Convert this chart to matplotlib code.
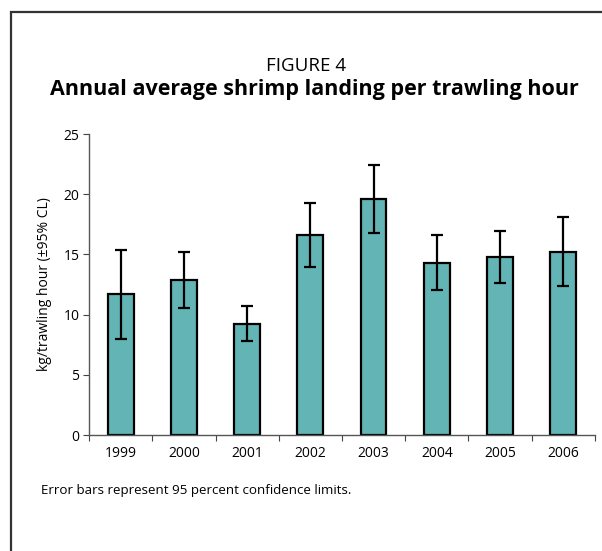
import matplotlib.pyplot as plt
from matplotlib.patches import Rectangle

# Annual mean landing per trawling hour with 95% confidence limits
years = ["1999", "2000", "2001", "2002", "2003", "2004", "2005", "2006"]
mean_catch = [11.7, 12.9, 9.2, 16.6, 19.6, 14.3, 14.8, 15.2]
lower_cl = [7.95, 10.55, 7.8, 13.95, 16.8, 12.05, 12.65, 12.35]
upper_cl = [15.35, 15.2, 10.7, 19.25, 22.4, 16.6, 16.95, 18.1]

plt.rcParams['font.family'] = ['Open Sans', 'DejaVu Sans']


def plot_landings():
    fig = plt.figure(figsize=(6.02, 5.51), dpi=100)
    ax = fig.add_axes([0.148, 0.2105, 0.840, 0.5463])

    x = list(range(len(years)))
    err_low = [m - lo for m, lo in zip(mean_catch, lower_cl)]
    err_high = [hi - m for m, hi in zip(mean_catch, upper_cl)]

    ax.bar(x, mean_catch, width=0.41, color="#62b4b5", edgecolor="black",
           linewidth=1.6, zorder=2)
    ax.errorbar(x, mean_catch, yerr=[err_low, err_high], fmt="none",
                ecolor="black", elinewidth=1.6, capsize=4, capthick=1.6,
                zorder=3)

    ax.set_xlim(-0.5, len(years) - 0.5)
    ax.set_ylim(0, 25)
    ax.set_yticks([0, 5, 10, 15, 20, 25])

    # category labels sit between the boundary ticks
    ax.set_xticks([i - 0.5 for i in range(len(years) + 1)])
    ax.set_xticklabels([])
    ax.set_xticks(x, minor=True)
    ax.set_xticklabels(years, minor=True, fontsize=10)
    ax.tick_params(axis="x", which="minor", length=0, pad=8)
    ax.tick_params(axis="x", which="major", length=4, color="#444444")
    ax.tick_params(axis="y", length=4, color="#444444", labelsize=10, pad=3)

    for side in ["top", "right"]:
        ax.spines[side].set_visible(False)
    for side in ["left", "bottom"]:
        ax.spines[side].set_color("#555555")
        ax.spines[side].set_linewidth(1.0)

    ax.set_ylabel("kg/trawling hour (\u00b195% CL)", fontsize=10, labelpad=8)

    fig.text(0.508, 0.880, "FIGURE 4", ha="center", va="center", fontsize=13.5)
    fig.text(0.522, 0.837, "Annual average shrimp landing per trawling hour",
             ha="center", va="center", fontsize=15.5, fontweight="bold")
    fig.text(0.068, 0.110, "Error bars represent 95 percent confidence limits.",
             ha="left", va="center", fontsize=9.6)

    # box around the whole figure panel
    fig.patches.append(Rectangle((11 / 602, -0.1), 1.2, 1 - 12 / 551 + 0.1,
                                 transform=fig.transFigure, fill=False,
                                 edgecolor="#333333", linewidth=1.6))

    fig.savefig("out.png", dpi=100)


if __name__ == "__main__":
    plot_landings()
